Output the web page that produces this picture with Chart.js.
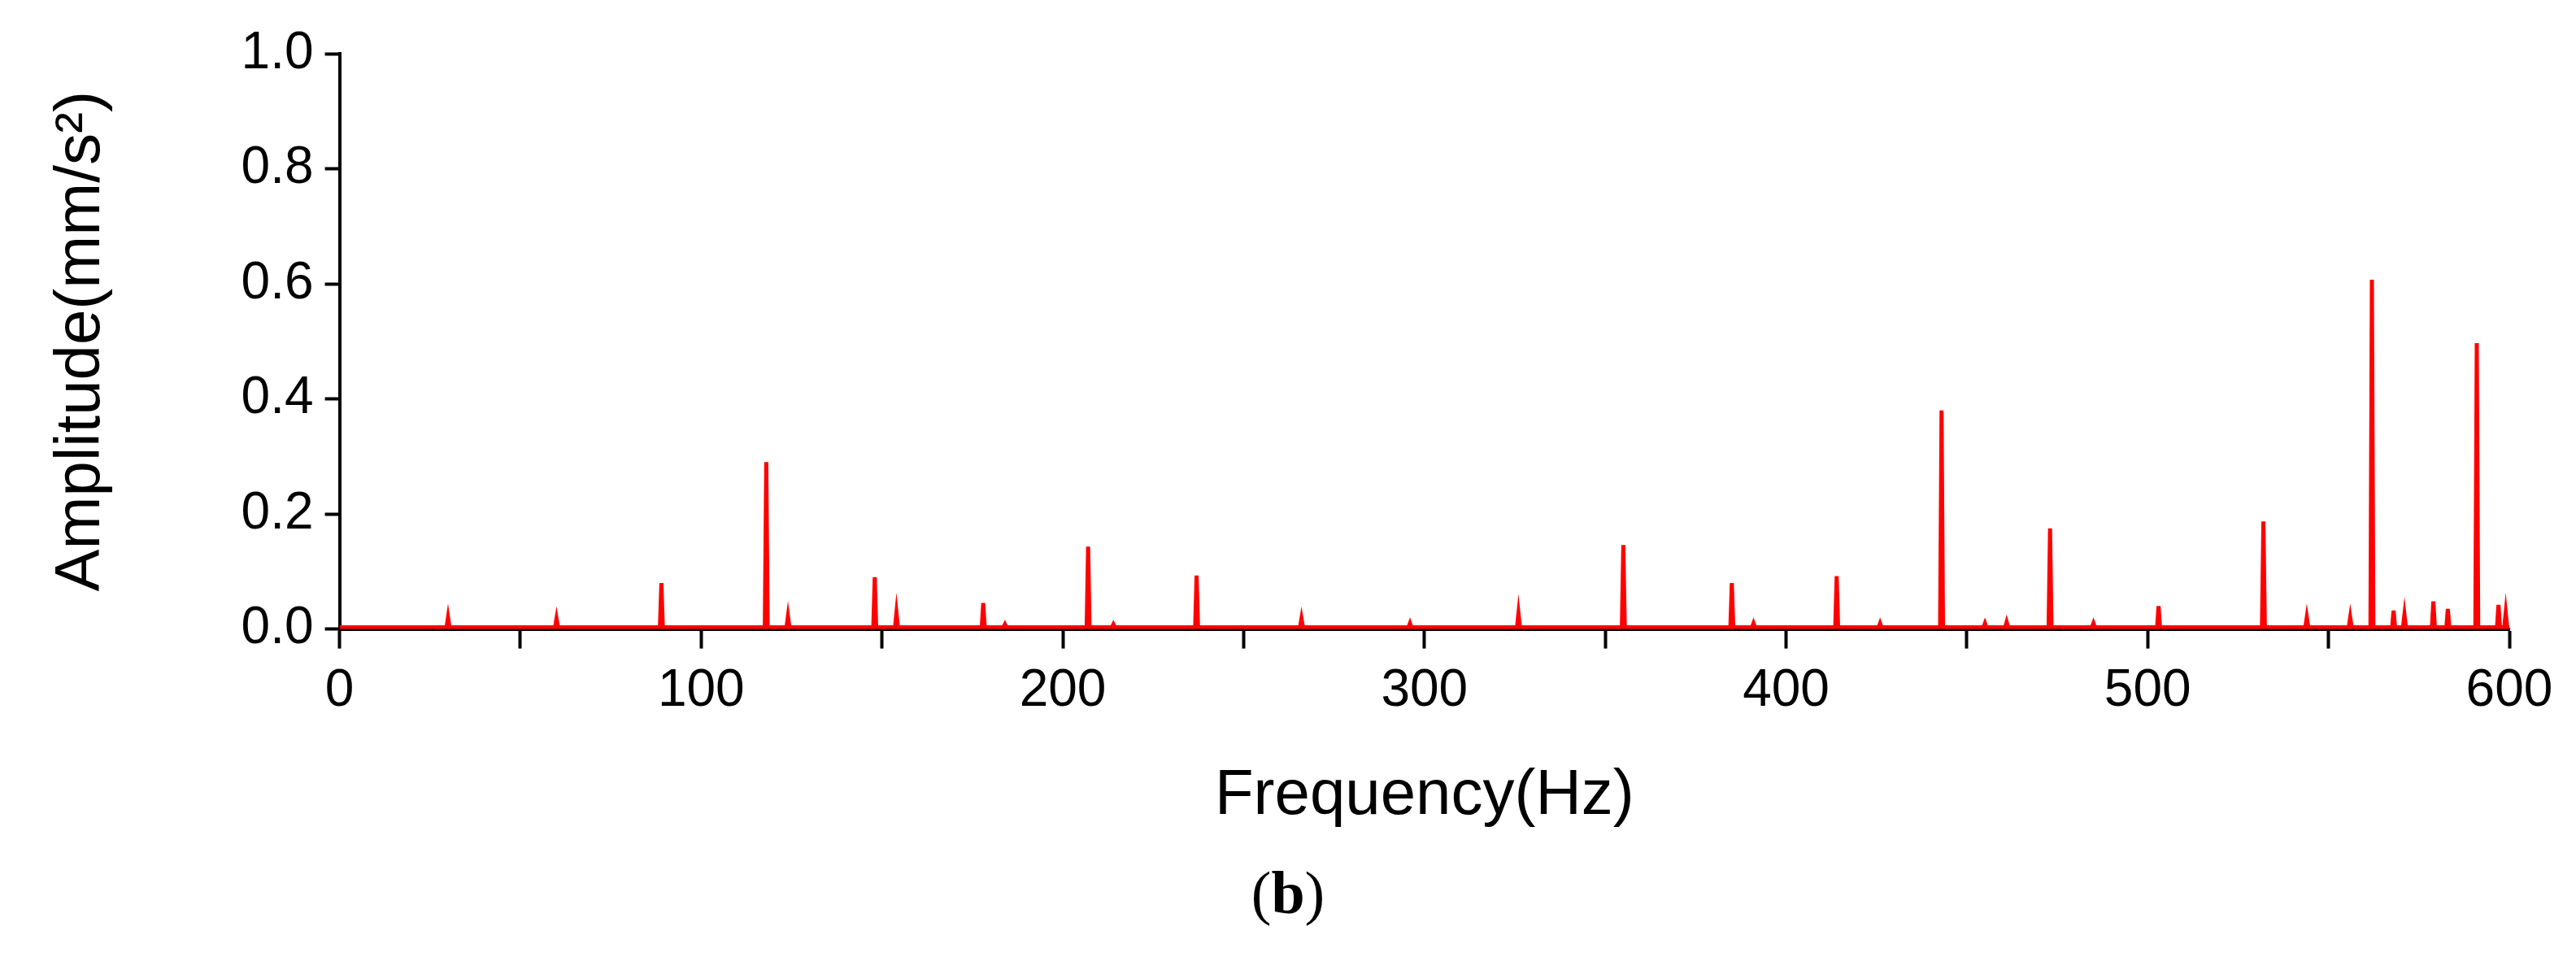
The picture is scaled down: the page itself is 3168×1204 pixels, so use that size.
<!DOCTYPE html>
<html>
<head>
<meta charset="utf-8">
<script src="https://cdn.jsdelivr.net/npm/chart.js@4"></script>
<style>
  body { margin: 0; background: #fff; }
  #wrap { position: relative; width: 3168px; height: 1204px; }
  #box { position: absolute; left: 0; top: 0; width: 3168px; height: 1030px; }
  #cap { position: absolute; left: 0; width: 3168px; top: 1056px; text-align: center;
         font: 74px "Liberation Serif", serif; }
</style>
</head>
<body>
<div id="wrap">
  <div id="box"><canvas id="spec"></canvas></div>
  <div id="cap">(<b>b</b>)</div>
</div>
<script>
const peakFreq = [30, 60, 89, 118, 124, 148, 154, 178, 184, 207, 214, 237, 266, 296, 326, 355, 385, 391, 414, 426, 443, 455, 461, 473, 485, 503, 532, 544, 556, 562, 568, 571, 579, 583, 591, 597, 599];
const peakAmp  = [0.02, 0.018, 0.08, 0.29, 0.022, 0.09, 0.028, 0.045, 0.008, 0.143, 0.008, 0.093, 0.018, 0.01, 0.027, 0.146, 0.08, 0.01, 0.092, 0.01, 0.38, 0.01, 0.012, 0.175, 0.01, 0.04, 0.187, 0.02, 0.02, 0.607, 0.032, 0.025, 0.048, 0.035, 0.497, 0.042, 0.028];
const xTicks = [0, 100, 200, 300, 400, 500, 600];
const yTicks = [0.0, 0.2, 0.4, 0.6, 0.8, 1.0];

// spectrum line: floor, peak, floor for each line
const points = [{ x: 0, y: 0.003 }];
peakFreq.forEach((f, i) => {
  points.push({ x: f - 0.4, y: 0.003 });
  points.push({ x: f, y: peakAmp[i] });
  points.push({ x: f + 0.4, y: 0.003 });
});
points.push({ x: 600, y: 0.003 });

const font = "'Liberation Sans', Arial, sans-serif";

new Chart(document.getElementById("spec"), {
  type: "line",
  data: {
    datasets: [{
      data: points,
      borderColor: "#ff0000",
      borderWidth: 5,
      pointRadius: 0,
      tension: 0,
      fill: false,
    }],
  },
  options: {
    responsive: true,
    maintainAspectRatio: false,
    animation: false,
    layout: { padding: { top: 66, right: 82, left: 50 } },
    plugins: { legend: { display: false }, tooltip: { enabled: false } },
    scales: {
      x: {
        type: "linear",
        min: 0,
        max: 600,
        ticks: {
          stepSize: 50,
          color: "#000",
          font: { family: font, size: 64 },
          padding: 14,
          maxRotation: 0,
          callback: (v) => (xTicks.includes(v) ? v : ""),
        },
        grid: { drawOnChartArea: false, color: "#000", tickLength: 24, tickWidth: 4 },
        border: { color: "#000", width: 4 },
        title: { display: true, text: "Frequency(Hz)", color: "#000", font: { family: font, size: 78 }, padding: { top: 30 } },
      },
      y: {
        min: 0,
        max: 1,
        ticks: {
          stepSize: 0.1,
          color: "#000",
          font: { family: font, size: 64 },
          padding: 14,
          callback: (v) => {
            const r = Math.round(v * 10) / 10;
            return yTicks.some((t) => Math.abs(t - r) < 1e-9) ? r.toFixed(1) : "";
          },
        },
        grid: { drawOnChartArea: false, color: "#000", tickLength: 18, tickWidth: 4 },
        border: { color: "#000", width: 4 },
        title: { display: true, text: "Amplitude(mm/s²)", color: "#000", font: { family: font, size: 78 }, padding: { bottom: 135 } },
      },
    },
  },
});
</script>
</body>
</html>
